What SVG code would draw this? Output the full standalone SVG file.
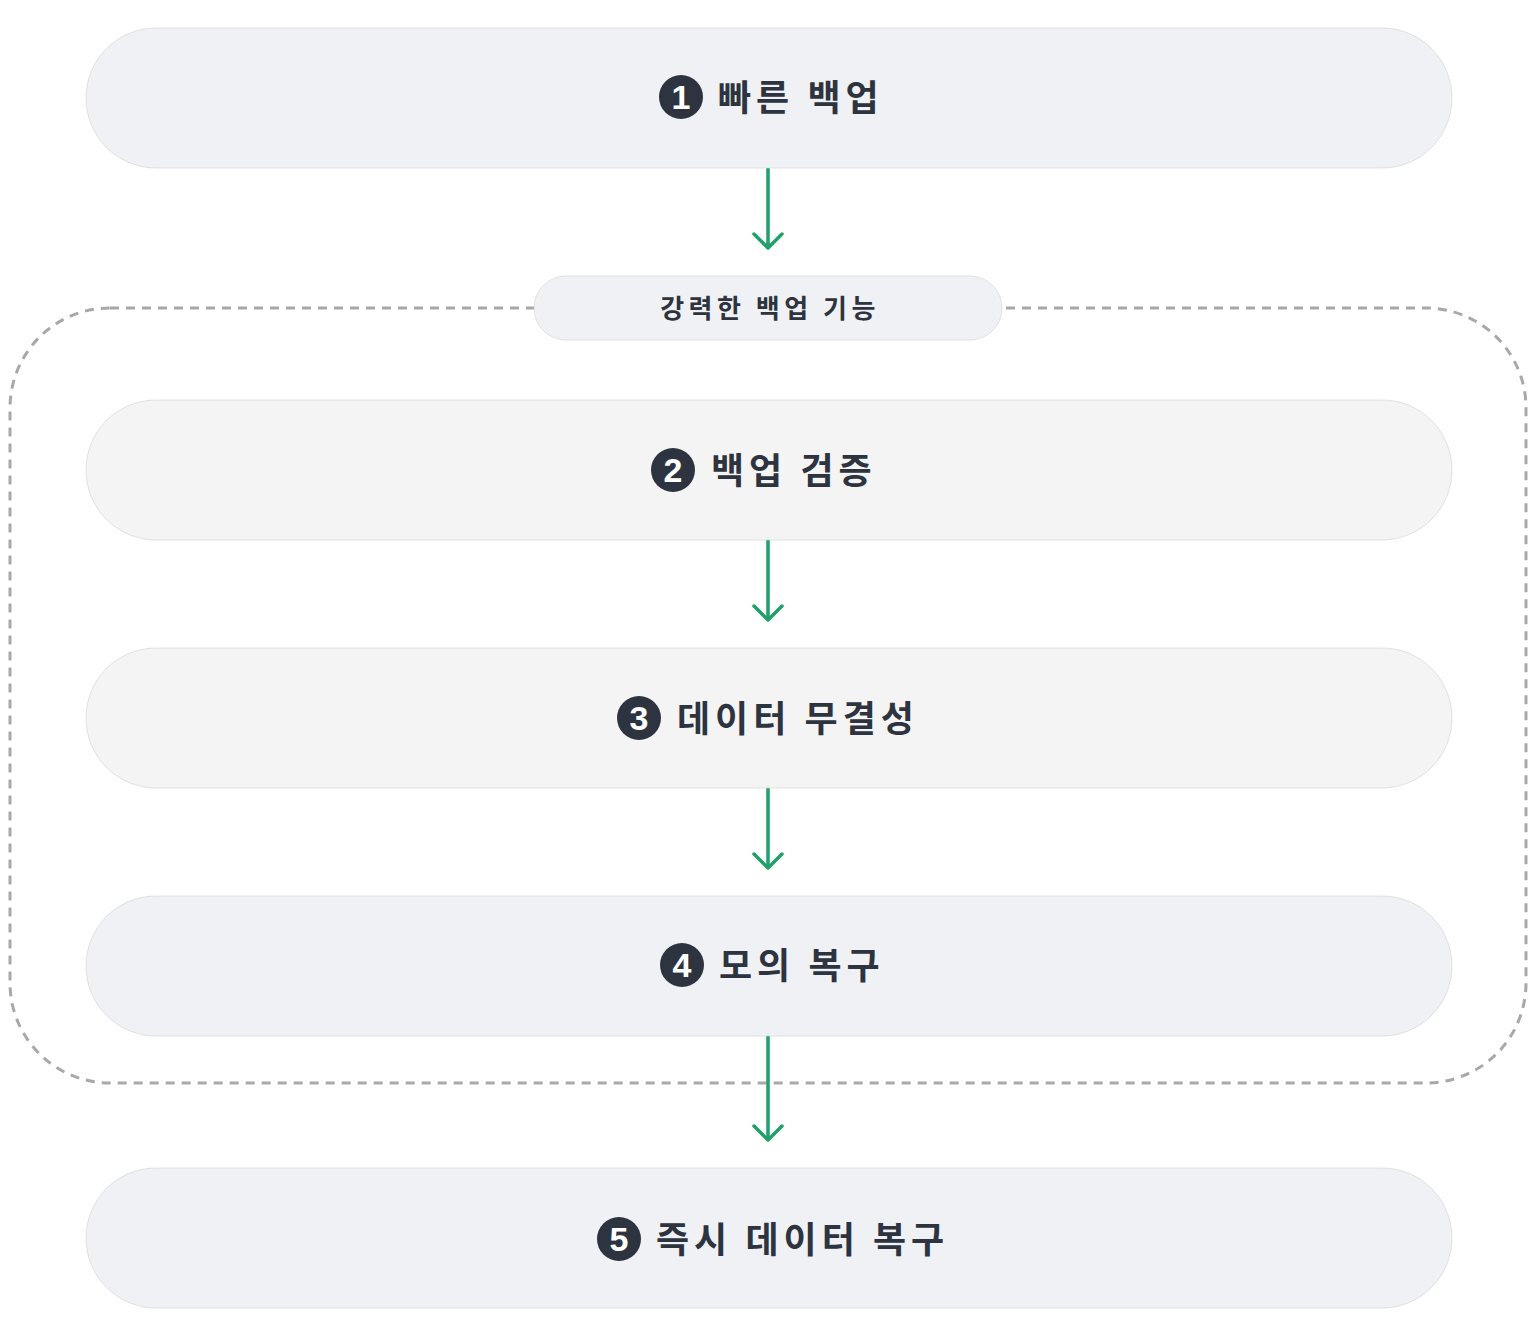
<svg xmlns="http://www.w3.org/2000/svg" width="1534" height="1336" viewBox="0 0 1534 1336">
<style>
.node{stroke:#d0d0d0;stroke-width:0.6}
.t{font-family:"Noto Sans CJK KR","Liberation Sans",sans-serif;font-weight:700;font-size:36px;fill:#2d3440;letter-spacing:5px}
.num{font-family:"Liberation Sans",sans-serif;font-weight:700;font-size:34px;fill:#fff;text-anchor:middle}
.c{fill:#2d3440}
.edge{stroke:#22a06b;stroke-width:3.5;fill:none;stroke-linecap:round;stroke-linejoin:round}
</style>
<rect width="1534" height="1336" fill="#fff"/>
<g id="group-box">
<rect x="10" y="308" width="1516" height="775" rx="100" fill="none" stroke="#a8a8a8" stroke-width="3" stroke-dasharray="9,7"/>
<rect x="534" y="276" width="468" height="64" rx="32" fill="#f0f1f4" stroke="#d0d0d0" stroke-width="0.6"/>
<text x="770" y="318" text-anchor="middle" style="font-family:'Noto Sans CJK KR',sans-serif;font-weight:700;font-size:26px;fill:#2d3440;letter-spacing:4.5px">강력한 백업 기능</text>
</g>
<g id="connectors">
<path class="edge" d="M768 168V247M754 234L768 248L782 234"/>
<path class="edge" d="M768 540V619M754 606L768 620L782 606"/>
<path class="edge" d="M768 788V867M754 854L768 868L782 854"/>
<path class="edge" d="M768 1036V1139M754 1126L768 1140L782 1126"/>
</g>
<g id="n1"><rect class="node" x="86" y="28" width="1366" height="140" rx="70" fill="#f0f1f5"/>
<circle class="c" cx="681" cy="97" r="22"/><text class="num" x="681" y="109">1</text>
<text class="t" x="718" y="111">빠른 백업</text></g>
<g id="n2"><rect class="node" x="86" y="400" width="1366" height="140" rx="70" fill="#f4f4f5"/>
<circle class="c" cx="673" cy="470" r="22"/><text class="num" x="673" y="482">2</text>
<text class="t" x="711" y="484">백업 검증</text></g>
<g id="n3"><rect class="node" x="86" y="648" width="1366" height="140" rx="70" fill="#f4f4f5"/>
<circle class="c" cx="639" cy="718" r="22"/><text class="num" x="639" y="730">3</text>
<text class="t" x="677" y="732">데이터 무결성</text></g>
<g id="n4"><rect class="node" x="86" y="896" width="1366" height="140" rx="70" fill="#f0f1f5"/>
<circle class="c" cx="682" cy="965" r="22"/><text class="num" x="682" y="977">4</text>
<text class="t" x="719" y="979">모의 복구</text></g>
<g id="n5"><rect class="node" x="86" y="1168" width="1366" height="140" rx="70" fill="#f0f1f5"/>
<circle class="c" cx="619" cy="1239" r="22"/><text class="num" x="619" y="1251">5</text>
<text class="t" x="656" y="1253">즉시 데이터 복구</text></g>
</svg>
